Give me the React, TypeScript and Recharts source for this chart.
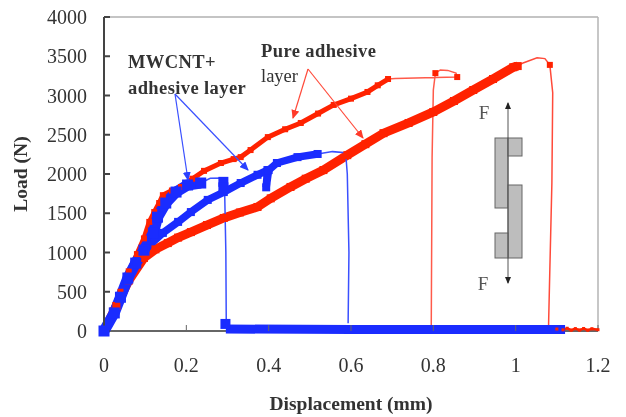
import { ComposedChart, Line, XAxis, YAxis, ReferenceLine } from "recharts";

const xTicks = [0, 0.2, 0.4, 0.6, 0.8, 1, 1.2];
const yTicks = [0, 500, 1000, 1500, 2000, 2500, 3000, 3500, 4000];

// [displacement, load]
const pureUpper = [
  [0, 0], [0.02, 260], [0.04, 500], [0.06, 760], [0.08, 980], [0.097, 1180], [0.11, 1390], [0.122, 1515],
  [0.134, 1630], [0.143, 1730], [0.165, 1790], [0.187, 1835], [0.215, 1940], [0.243, 2040], [0.284, 2140],
  [0.315, 2190], [0.332, 2215], [0.356, 2305], [0.398, 2470], [0.44, 2570], [0.478, 2650], [0.52, 2770],
  [0.558, 2880], [0.6, 2960], [0.64, 3045], [0.665, 3130], [0.69, 3210],
];
const pureUpperTail = [
  [0.69, 3210], [0.708, 3215], [0.805, 3230], [0.858, 3235], [0.855, 3285], [0.835, 3320], [0.817, 3325],
  [0.805, 3285], [0.8, 3070], [0.797, 2215], [0.795, 100], [0.795, 30],
];
const pureLower = [
  [0, 0], [0.03, 320], [0.06, 640], [0.097, 930], [0.125, 1040], [0.155, 1120], [0.18, 1190], [0.211, 1260],
  [0.25, 1350], [0.291, 1440], [0.33, 1510], [0.373, 1580], [0.405, 1690], [0.453, 1835], [0.49, 1940],
  [0.533, 2050], [0.591, 2240], [0.635, 2380], [0.679, 2520], [0.74, 2650], [0.8, 2790], [0.85, 2930],
  [0.897, 3070], [0.945, 3210], [0.994, 3360], [1.005, 3375],
];
const pureLowerTail = [
  [1.005, 3375], [1.018, 3415], [1.052, 3480], [1.071, 3470], [1.083, 3390], [1.09, 3035], [1.088, 1890],
  [1.083, 780], [1.08, 100], [1.08, 30],
];
const pureZero = [
  [1.1, 25], [1.115, 15], [1.125, 35], [1.135, 10], [1.145, 30], [1.155, 12], [1.165, 32], [1.175, 10],
  [1.185, 28], [1.2, 16],
];
const pureBlobs = [[0.805, 3285], [0.858, 3235], [1.083, 3390]];

const hybridUpper = [
  [0, 0], [0.025, 230], [0.04, 430], [0.058, 675], [0.077, 865], [0.097, 1030], [0.12, 1250], [0.13, 1450],
  [0.15, 1630], [0.175, 1770], [0.203, 1860], [0.235, 1885],
];
const hybridUpperTail = [
  [0.235, 1885], [0.258, 1945], [0.29, 1950], [0.293, 1800], [0.296, 1000], [0.297, 100],
];
const hybridLower = [
  [0, 0], [0.058, 640], [0.097, 1030], [0.143, 1250], [0.18, 1390], [0.211, 1515], [0.252, 1670],
  [0.291, 1770], [0.332, 1885], [0.373, 1990], [0.397, 2050], [0.394, 1830], [0.4, 2050], [0.42, 2140],
  [0.47, 2215], [0.519, 2255],
];
const hybridLowerTail = [
  [0.519, 2255], [0.555, 2285], [0.587, 2270], [0.591, 2000], [0.595, 1000], [0.593, 100],
];
const hybridZero = [[0.296, 25], [0.6, 20], [0.8, 20], [1, 20], [1.12, 20]];
const hybridBlobs = [[0.29, 1900], [0.29, 1830], [0.295, 90]];

const toRows = (points: number[][]) => points.map(([x, y]) => ({ x, y }));

const square = (size: number, color: string) => (p: any) => (
  <rect key={p.key ?? p.index} x={p.cx - size / 2} y={p.cy - size / 2} width={size} height={size} fill={color} />
);

const RED = "#ff2200";
const BLUE = "#1a2cff";
const SERIF = "'Liberation Serif', serif";

export default function App() {
  const tickStyle = { fill: "#333", fontSize: 20, fontFamily: SERIF };
  return (
    <div style={{ position: "absolute", left: 0, top: 0, width: 626, height: 417, background: "#fff", filter: "blur(0.5px)" }}>
      <ComposedChart width={626} height={417} margin={{ top: 17, right: 28, bottom: 56, left: 44 }}>
        <XAxis
          type="number"
          dataKey="x"
          domain={[0, 1.2]}
          ticks={xTicks}
          tick={tickStyle}
          tickSize={-6}
          tickMargin={33}
          height={30}
          stroke="#666"
          axisLine={false}
          allowDuplicatedCategory={false}
        />
        <YAxis
          type="number"
          dataKey="y"
          domain={[0, 4000]}
          ticks={yTicks}
          tick={tickStyle}
          tickSize={-6}
          tickMargin={23}
          width={60}
          stroke="#444"
          strokeWidth={2}
        />
        <ReferenceLine y={4000} stroke="#c4c4c4" strokeWidth={2} />
        <ReferenceLine x={1.2} stroke="#b4b4b4" strokeWidth={1.5} />
        <ReferenceLine y={0} stroke="#666" strokeWidth={2} />

        <Line data={toRows(pureUpperTail)} dataKey="y" stroke="#ff5a4a" strokeWidth={1.5} dot={false} isAnimationActive={false} />
        <Line data={toRows(pureLowerTail)} dataKey="y" stroke="#ff4a3a" strokeWidth={1.5} dot={false} isAnimationActive={false} />
        <Line data={toRows(pureUpper)} dataKey="y" stroke={RED} strokeWidth={5} dot={square(6, RED)} isAnimationActive={false} />
        <Line data={toRows(pureLower)} dataKey="y" stroke={RED} strokeWidth={9} dot={square(8, RED)} isAnimationActive={false} />
        <Line data={toRows(pureZero)} dataKey="y" stroke={RED} strokeWidth={2.5} dot={square(3, RED)} isAnimationActive={false} />
        <Line data={toRows(pureBlobs)} dataKey="y" stroke="none" dot={square(6, RED)} isAnimationActive={false} />

        <Line data={toRows(hybridUpperTail)} dataKey="y" stroke="#3a50ff" strokeWidth={1.5} dot={false} isAnimationActive={false} />
        <Line data={toRows(hybridLowerTail)} dataKey="y" stroke="#3a50ff" strokeWidth={1.5} dot={false} isAnimationActive={false} />
        <Line data={toRows(hybridUpper)} dataKey="y" stroke={BLUE} strokeWidth={11} dot={square(11, BLUE)} isAnimationActive={false} />
        <Line data={toRows(hybridLower)} dataKey="y" stroke={BLUE} strokeWidth={7.5} dot={square(8, BLUE)} isAnimationActive={false} />
        <Line data={toRows(hybridZero)} dataKey="y" stroke={BLUE} strokeWidth={9} dot={false} isAnimationActive={false} />
        <Line data={toRows(hybridBlobs)} dataKey="y" stroke="none" dot={square(10, BLUE)} isAnimationActive={false} />
      </ComposedChart>

      <svg width={626} height={417} style={{ position: "absolute", left: 0, top: 0 }}>
        <defs>
          <marker id="headBlue" markerWidth="9" markerHeight="8" refX="8" refY="4" orient="auto" markerUnits="userSpaceOnUse">
            <path d="M0,0 L9,4 L0,8 Z" fill="#2a40ff" />
          </marker>
          <marker id="headRed" markerWidth="9" markerHeight="8" refX="8" refY="4" orient="auto" markerUnits="userSpaceOnUse">
            <path d="M0,0 L9,4 L0,8 Z" fill="#ff3a2a" />
          </marker>
          <marker id="headBlack" markerWidth="7" markerHeight="6" refX="6" refY="3" orient="auto-start-reverse" markerUnits="userSpaceOnUse">
            <path d="M0,0 L7,3 L0,6 Z" fill="#222" />
          </marker>
        </defs>

        <g stroke="#3a50ff" strokeWidth={1.2}>
          <line x1={175} y1={94} x2={188} y2={180} markerEnd="url(#headBlue)" />
          <line x1={175} y1={94} x2={248} y2={170} markerEnd="url(#headBlue)" />
        </g>
        <g stroke="#ff4a3a" strokeWidth={1.2}>
          <line x1={308} y1={69} x2={293} y2={118} markerEnd="url(#headRed)" />
          <line x1={308} y1={69} x2={363} y2={138} markerEnd="url(#headRed)" />
        </g>

        <g fill="#bdbdbd" stroke="#666" strokeWidth={1}>
          <rect x={495} y={138} width={13} height={70} />
          <rect x={508} y={138} width={14} height={18} />
          <rect x={508} y={185} width={14} height={73} />
          <rect x={495} y={233} width={13} height={25} />
        </g>
        <line x1={508} y1={103} x2={508} y2={283} stroke="#555" strokeWidth={1} markerStart="url(#headBlack)" markerEnd="url(#headBlack)" />

        <g fontFamily={SERIF} fill="#333">
          <text x={484} y={119} fontSize={19} textAnchor="middle" fill="#555">F</text>
          <text x={483} y={290} fontSize={19} textAnchor="middle" fill="#555">F</text>
          <text x={128} y={68} fontSize={18.5} fontWeight="bold" letterSpacing={0.4}>MWCNT+</text>
          <text x={128} y={94} fontSize={18.5} fontWeight="bold" letterSpacing={0.4}>adhesive layer</text>
          <text x={261} y={57} fontSize={18.5} fontWeight="bold" letterSpacing={0.4}>Pure adhesive</text>
          <text x={261} y={82} fontSize={18.5}>layer</text>
          <text x={351} y={410} fontSize={19.5} fontWeight="bold" textAnchor="middle">Displacement (mm)</text>
          <text transform="translate(27 174) rotate(-90)" fontSize={19.5} fontWeight="bold" textAnchor="middle">Load (N)</text>
        </g>
      </svg>
    </div>
  );
}
